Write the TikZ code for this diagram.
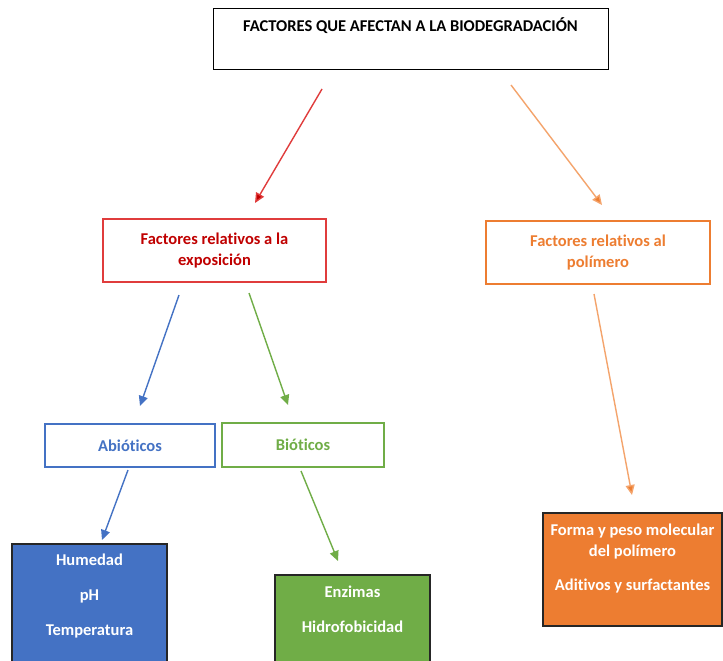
\documentclass[tikz,border=0pt]{standalone}
\usepackage{fontspec}
\setmainfont[Ligatures={NoCommon}]{Carlito}
\usetikzlibrary{arrows.meta,positioning}
\definecolor{rojo}{HTML}{C00000}
\definecolor{rojoclaro}{HTML}{E03C3C}
\definecolor{naranja}{HTML}{ED7D31}
\definecolor{naranjaclaro}{HTML}{F4A46C}
\definecolor{azul}{HTML}{4472C4}
\definecolor{verde}{HTML}{70AD47}
\tikzset{
	caja/.style={draw=#1, line width=1.3pt, inner sep=0pt},
	cajallena/.style={draw=black!85, fill=#1, line width=1.1pt, inner sep=0pt},
	texto/.style={font=\fontsize{16.5}{21}\selectfont\bfseries, align=center, text=#1},
	flecha/.style={draw=#1, line width=1.4pt, -{Triangle[length=10pt,width=9pt]}},
}
\begin{document}
\begin{tikzpicture}[x=1pt,y=-1pt]
	\clip (0,0) rectangle (723,661);
	\fill[white] (0,0) rectangle (723,661);
	% cajas
	\node[caja=black, line width=1pt, minimum width=395pt, minimum height=61pt] (titulo) at (410.5,39.5) {};
	\node[texto=black] (tituloTxt) at (410.5,26) {FACTORES QUE AFECTAN A LA BIODEGRADACIÓN};
	\node[caja=rojoclaro, minimum width=223pt, minimum height=63pt, texto=rojo] (expo) at (214.5,250.5) {Factores relativos a la\\exposición};
	\node[caja=naranja, minimum width=224pt, minimum height=63pt, texto=naranja] (polim) at (598,252.5) {Factores relativos al\\polímero};
	\node[caja=azul, minimum width=170pt, minimum height=43pt, texto=azul] (abio) at (130,445.5) {Abióticos};
	\node[caja=verde, minimum width=162pt, minimum height=44pt, texto=verde] (bio) at (303,445) {Bióticos};
	\node[cajallena=azul, minimum width=155pt, minimum height=126pt] (hum) at (89.5,607) {};
	\node[texto=white] (humTxt) at (89.5,596) {Humedad\\[14pt]pH\\[14pt]Temperatura};
	\node[cajallena=verde, minimum width=155pt, minimum height=95pt] (enz) at (352.5,622.5) {};
	\node[texto=white] (enzTxt) at (352.5,609.5) {Enzimas\\[14pt]Hidrofobicidad};
	\node[cajallena=naranja, minimum width=179pt, minimum height=113pt] (forma) at (632.5,569.5) {};
	\node[texto=white] (formaTxt) at (632.5,558.5) {Forma y peso molecular\\del polímero\\[13pt]Aditivos y surfactantes};
	% flechas
	\coordinate (r0) at (322,89);  \coordinate (r1) at (255,203);
	\coordinate (o0) at (511,85);  \coordinate (o1) at (602,205);
	\coordinate (a0) at (179,295); \coordinate (a1) at (140,406);
	\coordinate (v0) at (249,293); \coordinate (v1) at (288,405);
	\coordinate (b0) at (128,470); \coordinate (b1) at (102,540);
	\coordinate (g0) at (301,471); \coordinate (g1) at (338,561);
	\coordinate (p0) at (594,294); \coordinate (p1) at (632,495);
	\draw[flecha=rojoclaro, -{Triangle[length=10pt,width=9pt,fill=rojo]}] (r0) -- (r1);
	\draw[flecha=naranjaclaro, -{Triangle[length=10pt,width=9pt,fill=naranja]}] (o0) -- (o1);
	\draw[flecha=azul] (a0) -- (a1);
	\draw[flecha=verde] (v0) -- (v1);
	\draw[flecha=azul] (b0) -- (b1);
	\draw[flecha=verde] (g0) -- (g1);
	\draw[flecha=naranjaclaro, -{Triangle[length=10pt,width=9pt,fill=naranja]}] (p0) -- (p1);
\end{tikzpicture}
\end{document}
